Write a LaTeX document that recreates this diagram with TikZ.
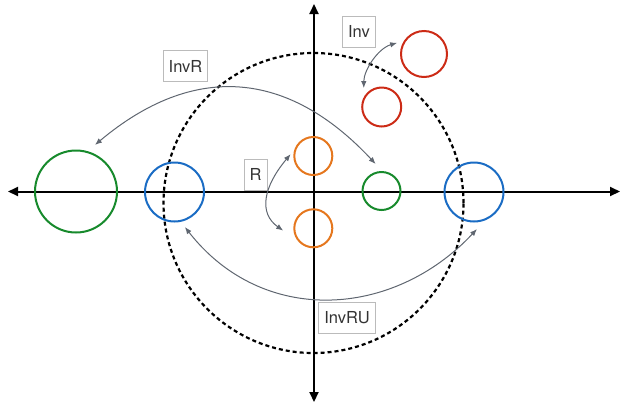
\documentclass[tikz,border=0pt]{standalone}
\usepackage{fontspec}
\setsansfont{TeX Gyre Heros}
\usetikzlibrary{arrows.meta}
\definecolor{rgreen}{HTML}{178A2C}
\definecolor{rblue}{HTML}{1A6CC4}
\definecolor{rorange}{HTML}{E5771E}
\definecolor{rred}{HTML}{CC2B16}
\definecolor{cgray}{HTML}{5F6670}
\definecolor{tagline}{HTML}{BBBBBB}
\tikzset{
  >=Latex,
  font=\sffamily,
  ring/.style={circle, draw=#1, line width=2pt, inner sep=0pt},
  tag/.style={
    draw=tagline, line width=0.9pt, text=black!80, inner xsep=5.5pt,
    minimum height=31pt, font=\fontsize{16.5}{19}\selectfont\sffamily
  },
  axis/.style={line width=2pt, {Triangle[length=10pt,width=9pt]}-{Triangle[length=10pt,width=9pt]}},
  swap/.style={{Latex[length=7pt,width=5.5pt]}-{Latex[length=7pt,width=5.5pt]}, draw=cgray, line width=1pt},
  unitring/.style={line width=2.2pt, dash pattern=on 4pt off 3pt}
}
\begin{document}
\begin{tikzpicture}[x=1pt,y=1pt]
  \useasboundingbox (0,0) rectangle (623,-408);
  \draw[unitring] (313.5,-203) circle (150);
  \draw[axis] (8,-191.5) -- (620,-191.5);
  \draw[axis] (314,-4) -- (314,-402);

  \node[ring=rgreen, minimum size=82pt] (gbig) at (76,-191.5) {};
  \node[ring=rblue, minimum size=59pt] (bleft) at (174.5,-192) {};
  \node[ring=rblue, minimum size=59pt] (bright) at (474,-192) {};
  \node[ring=rgreen, minimum size=38pt] (gsmall) at (381.5,-191) {};
  \node[ring=rorange, minimum size=38pt] (otop) at (313.3,-156) {};
  \node[ring=rorange, minimum size=38pt] (obot) at (313.3,-228.3) {};
  \node[ring=rred, minimum size=46pt] (rtop) at (424,-54) {};
  \node[ring=rred, minimum size=39pt] (rbot) at (381.7,-107) {};

  \node[tag] (inv) at (359,-31.5) {Inv};
  \node[tag] (invr) at (185.5,-66) {InvR};
  \node[tag] (rot) at (255.5,-174.5) {R};
  \node[tag] (invru) at (347,-318) {InvRU};

  \draw[swap, shorten <=7pt, shorten >=9pt] (rtop.147) to[out=196, in=90] (rbot.151);
  \draw[swap, shorten <=5.7pt, shorten >=17.5pt] (otop.162) to[out=230, in=145, looseness=1.35] (obot.218);
  \draw[swap, shorten <=9.6pt, shorten >=9.6pt] (gbig.74) to[out=40, in=133, looseness=1.2] (gsmall.88);
  \draw[swap, shorten <=6.6pt, shorten >=11.7pt] (bleft.-78) to[out=-52, in=-133, looseness=1.12] (bright.-69);
\end{tikzpicture}
\end{document}
